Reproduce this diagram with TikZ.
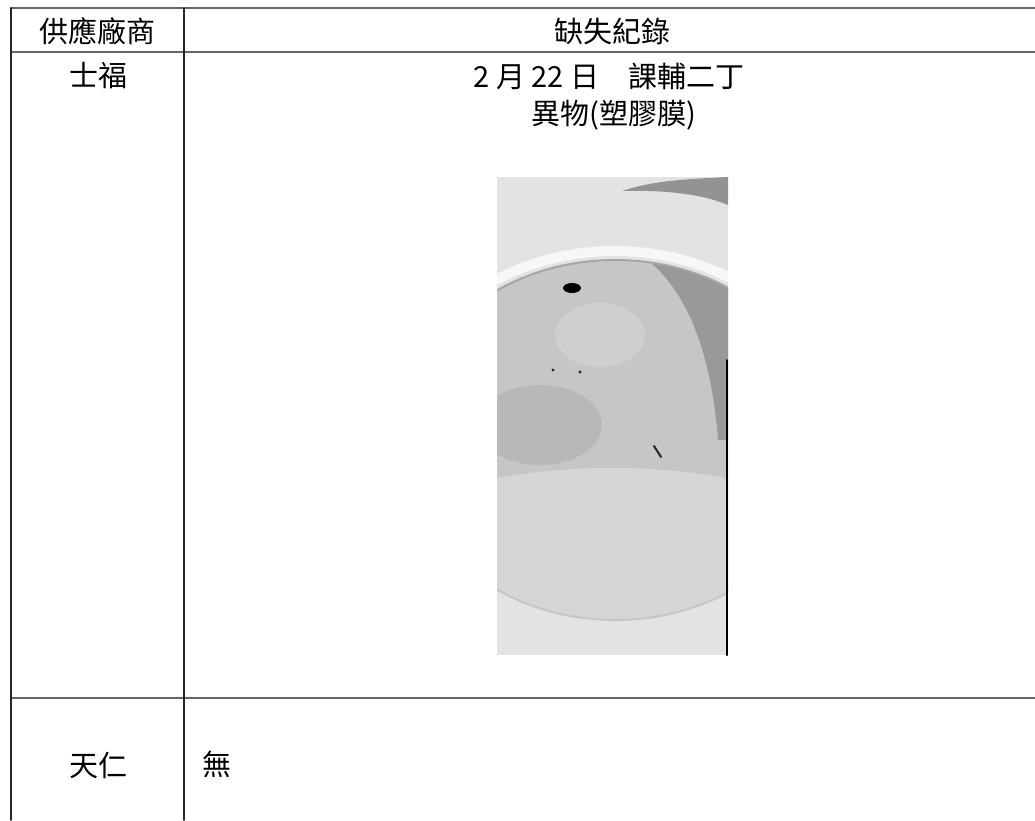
\documentclass[tikz,border=0pt]{standalone}
\usepackage{fontspec}
\newfontfamily\cjk{Noto Sans CJK TC}
\begin{document}
\begin{tikzpicture}[x=1pt, y=-1pt, line cap=round, line join=round,
    every node/.style={font=\cjk\fontsize{29}{32}\selectfont, inner sep=0pt},
    vrule/.style={line width=1.6pt, black!85},
    hrule/.style={line width=2pt, black!60}] % table + photo

  \useasboundingbox (0,0) rectangle (1035,820);

  % photo
  \begin{scope}
    \clip (497,177) rectangle (728,655);
    \fill[gray!22] (497,177) rectangle (728,655);
    \fill[gray!85] (622,191) .. controls (655,180) and (690,179) .. (728,177)
      -- (728,205) .. controls (700,193) and (660,190) .. (622,191) -- cycle;
    \fill[gray!45] (615,440) ellipse [x radius=212pt, y radius=180pt];
    \begin{scope}
      \clip (615,440) ellipse [x radius=212pt, y radius=180pt];
      \fill[gray!80] (645,258) .. controls (690,292) and (712,360) .. (718,440)
        -- (728,440) -- (728,258) -- cycle;
      \fill[gray!56] (540,425) ellipse [x radius=62pt, y radius=40pt];
      \fill[gray!32] (612,548) ellipse [x radius=235pt, y radius=80pt];
      \fill[gray!38] (600,335) ellipse [x radius=45pt, y radius=32pt];
    \end{scope}
    \begin{scope}
      \clip (497,177) rectangle (728,430);
      \draw[gray!6, line width=10pt] (615,438) ellipse [x radius=222pt, y radius=187pt];
      \draw[gray!70, line width=2pt] (615,440) ellipse [x radius=212pt, y radius=180pt];
    \end{scope}
    \begin{scope}
      \clip (497,430) rectangle (728,655);
      \draw[gray!45, line width=2pt] (615,440) ellipse [x radius=212pt, y radius=180pt];
    \end{scope}
    \fill[black] (572,288) ellipse [x radius=9pt, y radius=5pt];
    \fill[black!85] (553,370) circle [radius=1.6pt];
    \fill[black!85] (580,372) circle [radius=1.6pt];
    \draw[black!85, line width=2pt] (654,446) -- (661,457);
    \draw[black, line width=2pt] (727,360) -- (727,655);
  \end{scope}

  % table rules
  \draw[hrule] (11,8) -- (1035,8);
  \draw[hrule] (11,52) -- (1035,52);
  \draw[hrule] (11,698) -- (1035,698);
  \draw[vrule] (11,8) -- (11,820);
  \draw[vrule] (184,8) -- (184,820);

  % texts
  \node (h1) at (97,31) {供應廠商};
  \node (h2) at (612,31) {缺失紀錄};
  \node (s1) at (98,76) {士福};
  \node (d1) at (609,76) {2 月 22 日\quad 課輔二丁};
  \node (d2) at (614,115) {異物(塑膠膜)};
  \node (t1) at (98,765) {天仁};
  \node[anchor=west] (t2) at (202,764) {無};
\end{tikzpicture}
\end{document}
